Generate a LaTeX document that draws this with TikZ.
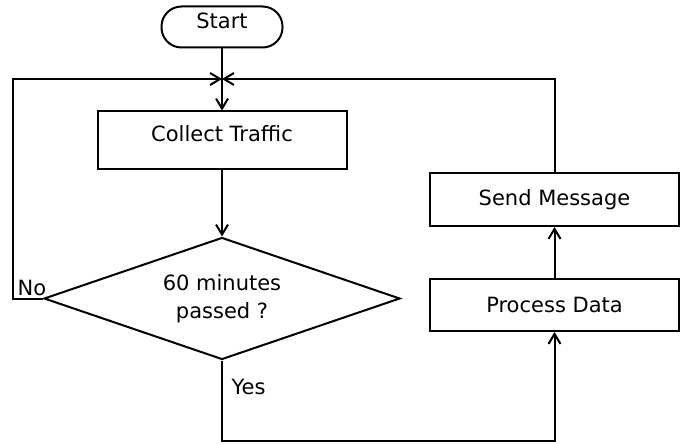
\documentclass[tikz,border=0pt]{standalone}
\usepackage{fontspec}
\setmainfont{DejaVu Sans}
\usetikzlibrary{positioning, shapes.geometric, arrows.meta}

\begin{document}
\begin{tikzpicture}[
x=0.5pt, y=-0.5pt,
font=\fontsize{10.5}{14}\selectfont,
line width=1pt,
    box/.style = {rectangle, draw, minimum width=124.5pt, minimum height=#1, inner sep=0pt},
    startbox/.style = {rectangle, draw, rounded corners=10pt, minimum width=60.5pt, minimum height=20.5pt, inner sep=0pt, text depth=6pt},
    decision/.style = {diamond, draw, aspect=2.92, minimum width=178pt, minimum height=61pt, inner sep=0pt, align=center},
    msg/.style={-{Straight Barb[length=5pt,width=6pt]}},
]
\useasboundingbox (0,0) rectangle (688,443);

\node[startbox] (start) at (222,27) {Start};
\node[box=28.5pt, text depth=6pt, below=31pt of start] (collect) {Collect Traffic};
\node[decision, below=33.5pt of collect] (dec) {60 minutes\\ passed ?};
\node[box=26pt] (proc) at (554.5,305) {Process Data};
\node[box=26.5pt, above=25.5pt of proc] (send) {Send Message};

\coordinate (join) at (222,79);

\draw[msg] (start) -- (collect);
\draw[msg] (collect) -- (dec);
\draw[msg] (proc) -- (send);
\draw[msg] (dec.west) -- ++(-30,0) |- (join);
\draw[msg] (send.north) |- (join);
\draw[msg] (dec.south) -- ++(0,80) -| (proc.south);

\node[anchor=west] (no) at (10,288) {No};
\node[anchor=west] (yes) at (224,387) {Yes};

\end{tikzpicture}
\end{document}
